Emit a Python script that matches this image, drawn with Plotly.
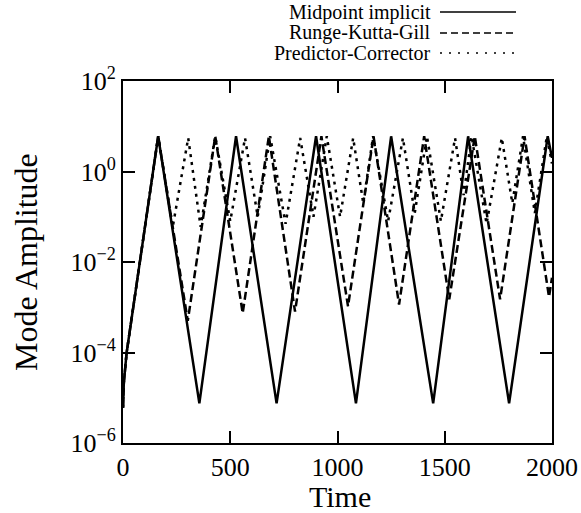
import plotly.graph_objects as go

# Midpoint implicit (solid)
mid_t = [0, 4, 17, 164, 356, 527, 716, 900, 1086, 1250, 1446, 1609, 1800, 1980, 2000]
mid_v = [6e-6, 2.2e-5, 1e-4, 6, 7.5e-6, 6, 7.5e-6, 6, 7.5e-6, 6, 7.5e-6, 6, 7.5e-6, 6, 2.0]

# Runge-Kutta-Gill (dashed)
rk_t = [0, 4, 17, 164, 302, 430, 558, 680, 802, 925, 1049, 1168, 1287, 1404,
        1521, 1640, 1758, 1872, 1986, 2000]
rk_v = [6e-6, 2.2e-5, 1e-4, 6, 5e-4, 6, 7.4e-4, 6, 8e-4, 6, 1.05e-3, 6, 1.15e-3, 6,
        1.5e-3, 6, 1.5e-3, 6, 1.7e-3, 4.5e-3]

# Predictor-Corrector (dotted)
pc_t = [0, 4, 17, 164, 232, 304, 362, 430, 500, 569, 628, 686, 758, 826, 888, 950,
        1012, 1073, 1120, 1166, 1236, 1305, 1360, 1417, 1482, 1548, 1588, 1625,
        1695, 1766, 1815, 1865, 1920, 1976, 2000]
pc_v = [6e-6, 2.2e-5, 1e-4, 6, 0.06, 5.5, 0.06, 6, 0.08, 5.5, 0.1, 6, 0.07, 5.5, 0.1, 6,
        0.1, 5.5, 0.2, 6, 0.08, 5.5, 0.12, 6, 0.08, 5.5, 0.3, 6,
        0.07, 5.5, 0.2, 6, 0.12, 6, 1.5]

names = ["Midpoint implicit", "Runge-Kutta-Gill", "Predictor-Corrector"]
y_tickvals = [1e-6, 1e-4, 1e-2, 1, 100]
y_ticktext = ["10<sup>\u22126</sup>", "10<sup>\u22124</sup>", "10<sup>\u22122</sup>",
              "10<sup>0</sup>", "10<sup>2</sup>"]
x_tickvals = [0, 500, 1000, 1500, 2000]

FONT = "Liberation Serif"

fig = go.Figure()
fig.add_trace(go.Scatter(x=mid_t, y=mid_v, mode="lines", name=names[0],
                         line=dict(color="black", width=2.5)))
fig.add_trace(go.Scatter(x=rk_t, y=rk_v, mode="lines", name=names[1],
                         line=dict(color="black", width=2.5, dash="8px,4px")))
fig.add_trace(go.Scatter(x=pc_t, y=pc_v, mode="lines", name=names[2],
                         line=dict(color="black", width=2.5, dash="3px,5px")))

L, R, T, B = 123, 29, 81, 70
W, H = 581, 513
pw, ph = W - L - R, H - T - B

def px(xp):
    return (xp - L) / pw

def py(yp):
    return (H - B - yp) / ph

# custom legend (text left, line sample right)
rows = [12, 33, 53]
dashes = ["solid", "7px,4px", "2px,7px"]
annotations = []
shapes = []
for name, yy, d in zip(names, rows, dashes):
    annotations.append(dict(x=px(432), y=py(yy), xref="paper", yref="paper",
                            text=name, showarrow=False, xanchor="right",
                            yanchor="middle", borderpad=0,
                            font=dict(family=FONT, size=20, color="black")))
    shapes.append(dict(type="line", xref="paper", yref="paper",
                       x0=px(440), x1=px(516), y0=py(yy), y1=py(yy),
                       line=dict(color="black", width=1.5, dash=d)))

# axis titles as annotations for exact placement
annotations.append(dict(x=px(340), y=py(496), xref="paper", yref="paper",
                        text="Time", showarrow=False, xanchor="center", yanchor="middle",
                        borderpad=0,
                        font=dict(family=FONT, size=30, color="black")))
annotations.append(dict(x=px(26), y=py(262), xref="paper", yref="paper",
                        text="Mode Amplitude", showarrow=False, textangle=-90,
                        xanchor="center", yanchor="middle", borderpad=0,
                        font=dict(family=FONT, size=32, color="black")))

fig.update_layout(
    width=W, height=H,
    margin=dict(l=L, r=R, t=T, b=B),
    paper_bgcolor="white", plot_bgcolor="white",
    showlegend=False,
    font=dict(family=FONT, color="black"),
    annotations=annotations,
    shapes=shapes,
    xaxis=dict(range=[0, 2000], tickvals=x_tickvals, ticks="inside", ticklen=12,
               tickwidth=1.5, tickcolor="black", showline=True, linecolor="black",
               linewidth=2, mirror="ticks", showgrid=False, zeroline=False,
               automargin=False,
               tickfont=dict(family=FONT, size=26)),
    yaxis=dict(type="log", range=[-6, 2], tickvals=y_tickvals, ticktext=y_ticktext,
               ticks="inside", ticklen=12, tickwidth=1.5, tickcolor="black",
               showline=True, linecolor="black", linewidth=2, mirror="ticks",
               showgrid=False, zeroline=False, automargin=False,
               tickfont=dict(family=FONT, size=26)),
)

fig.write_html("out.html", config={"displayModeBar": False},
               post_script="document.body.style.margin='0';document.body.style.padding='0';")
